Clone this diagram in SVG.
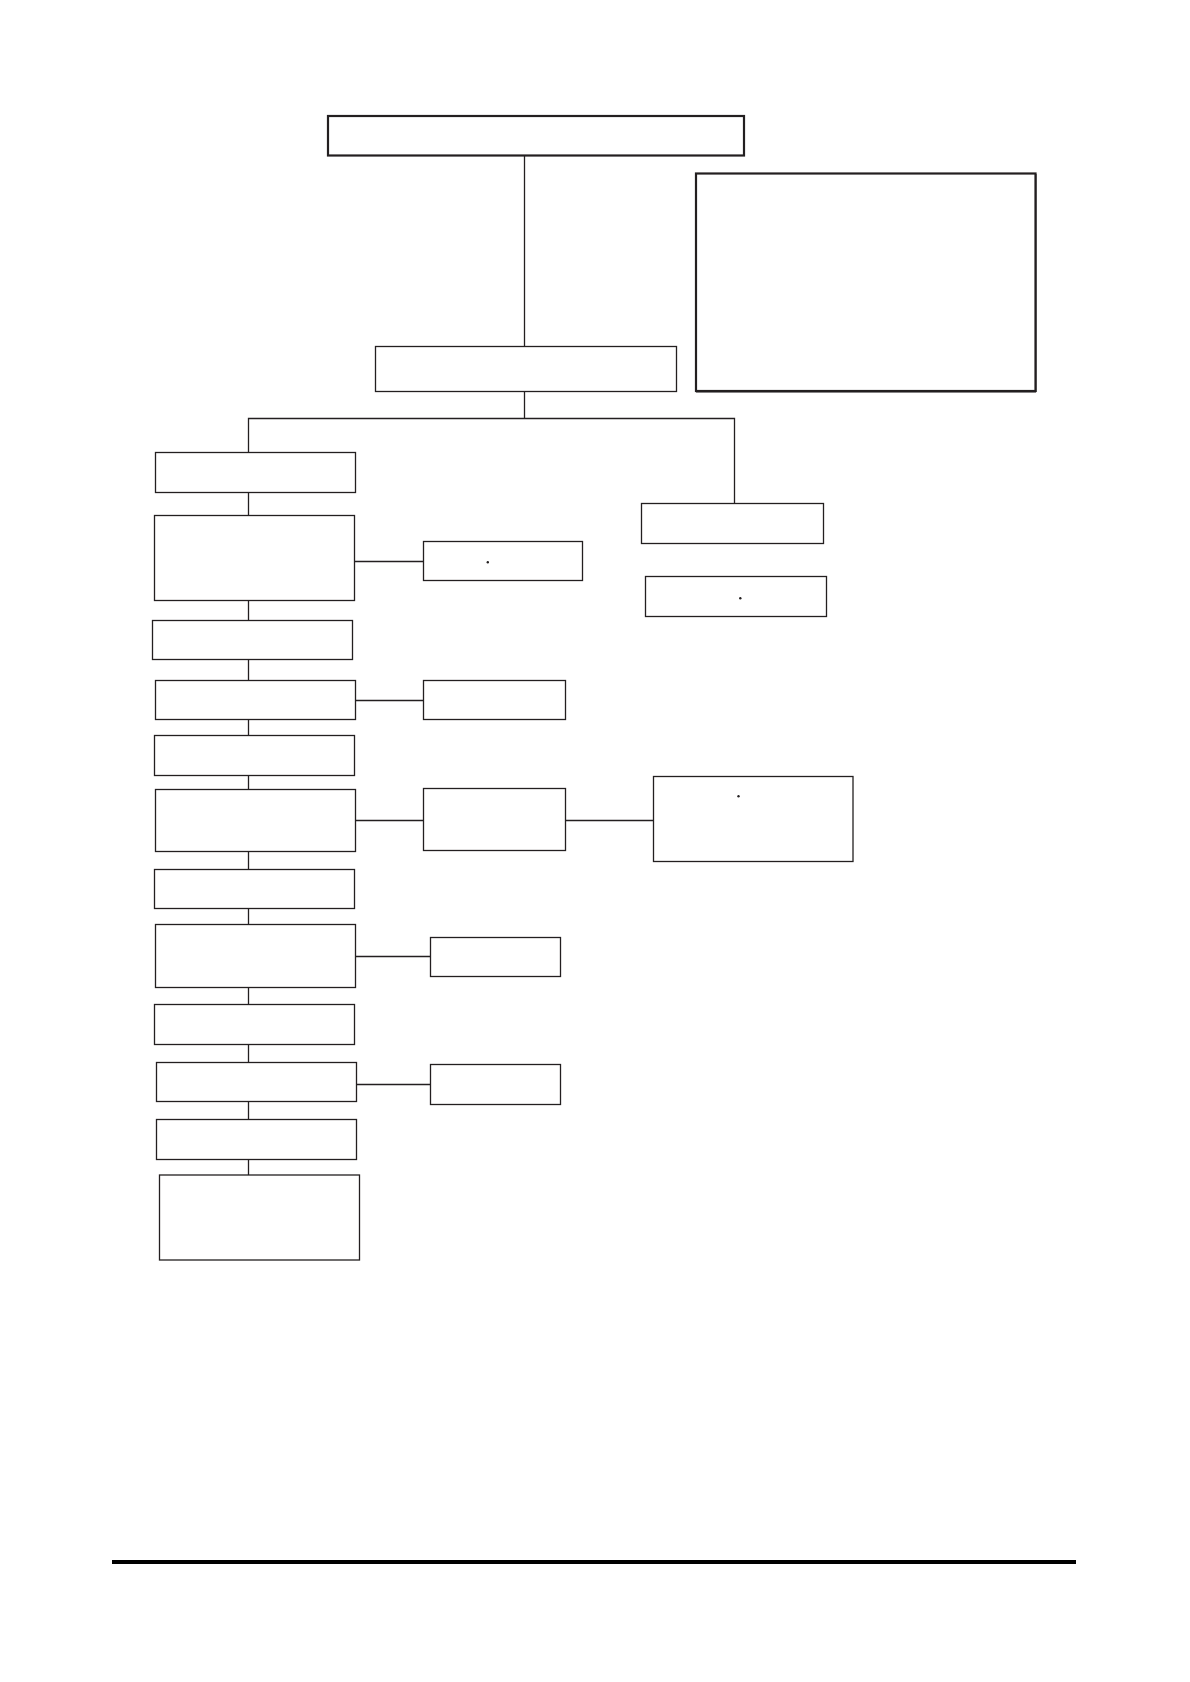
<svg xmlns="http://www.w3.org/2000/svg" width="1190" height="1682" viewBox="0 0 1190 1682">
<style>
.b{fill:#fff;stroke:#231f20;stroke-width:1.3}
.bt{fill:#fff;stroke:#231f20;stroke-width:2.2}
.c{fill:none;stroke:#231f20;stroke-width:1.3}
.d{fill:#231f20}
</style>
<rect x="0" y="0" width="1190" height="1682" fill="#fff"/>
<g id="connectors">
<line class="c" x1="524.5" y1="155.5" x2="524.5" y2="346.5"/>
<line class="c" x1="524.5" y1="391.5" x2="524.5" y2="418.5"/>
<polyline class="c" points="248.5,452.5 248.5,418.5 734.5,418.5 734.5,503.5"/>
<line class="c" x1="248.5" y1="492.5" x2="248.5" y2="1175"/>
<line class="c" x1="355" y1="561.5" x2="423.5" y2="561.5"/>
<line class="c" x1="355" y1="700.5" x2="423.5" y2="700.5"/>
<line class="c" x1="355" y1="820.5" x2="423.5" y2="820.5"/>
<line class="c" x1="565.5" y1="820.5" x2="653.5" y2="820.5"/>
<line class="c" x1="355.5" y1="956.5" x2="430.5" y2="956.5"/>
<line class="c" x1="356.5" y1="1084.5" x2="430.5" y2="1084.5"/>
</g>
<g id="n-top"><rect class="bt" x="328" y="116" width="416" height="39.5"/></g>
<g id="n-note"><rect class="bt" x="696" y="173.5" width="339.5" height="217.5"/><line x1="1036" y1="174" x2="1036" y2="392" stroke="#231f20" stroke-width="1"/><line x1="696" y1="392" x2="1036" y2="392" stroke="#231f20" stroke-width="1"/></g>
<g id="n-mid"><rect class="b" x="375.5" y="346.5" width="301" height="45"/></g>
<g id="n-l1"><rect class="b" x="155.5" y="452.5" width="200" height="40"/></g>
<g id="n-l2"><rect class="b" x="154.5" y="515.5" width="200" height="85"/></g>
<g id="n-s2"><rect class="b" x="423.5" y="541.5" width="159" height="39"/><circle class="d" cx="487.8" cy="562.3" r="1.2"/></g>
<g id="n-r1"><rect class="b" x="641.5" y="503.5" width="182" height="40"/></g>
<g id="n-r2"><rect class="b" x="645.5" y="576.5" width="181" height="40"/><circle class="d" cx="740.3" cy="598.3" r="1.2"/></g>
<g id="n-l3"><rect class="b" x="152.5" y="620.5" width="200" height="39"/></g>
<g id="n-l4"><rect class="b" x="155.5" y="680.5" width="200" height="39"/></g>
<g id="n-s4"><rect class="b" x="423.5" y="680.5" width="142" height="39"/></g>
<g id="n-l5"><rect class="b" x="154.5" y="735.5" width="200" height="40"/></g>
<g id="n-l6"><rect class="b" x="155.5" y="789.5" width="200" height="62"/></g>
<g id="n-s6"><rect class="b" x="423.5" y="788.5" width="142" height="62"/></g>
<g id="n-f6"><rect class="b" x="653.5" y="776.5" width="199.5" height="85"/><circle class="d" cx="738.5" cy="796.3" r="1.2"/></g>
<g id="n-l7"><rect class="b" x="154.5" y="869.5" width="200" height="39"/></g>
<g id="n-l8"><rect class="b" x="155.5" y="924.5" width="200" height="63"/></g>
<g id="n-s8"><rect class="b" x="430.5" y="937.5" width="130" height="39"/></g>
<g id="n-l9"><rect class="b" x="154.5" y="1004.5" width="200" height="40"/></g>
<g id="n-l10"><rect class="b" x="156.5" y="1062.5" width="200" height="39"/></g>
<g id="n-s10"><rect class="b" x="430.5" y="1064.5" width="130" height="40"/></g>
<g id="n-l11"><rect class="b" x="156.5" y="1119.5" width="200" height="40"/></g>
<g id="n-l12"><rect class="b" x="159.5" y="1175" width="200" height="85"/></g>
<line x1="112" y1="1562" x2="1076" y2="1562" stroke="#000" stroke-width="4"/>
</svg>
